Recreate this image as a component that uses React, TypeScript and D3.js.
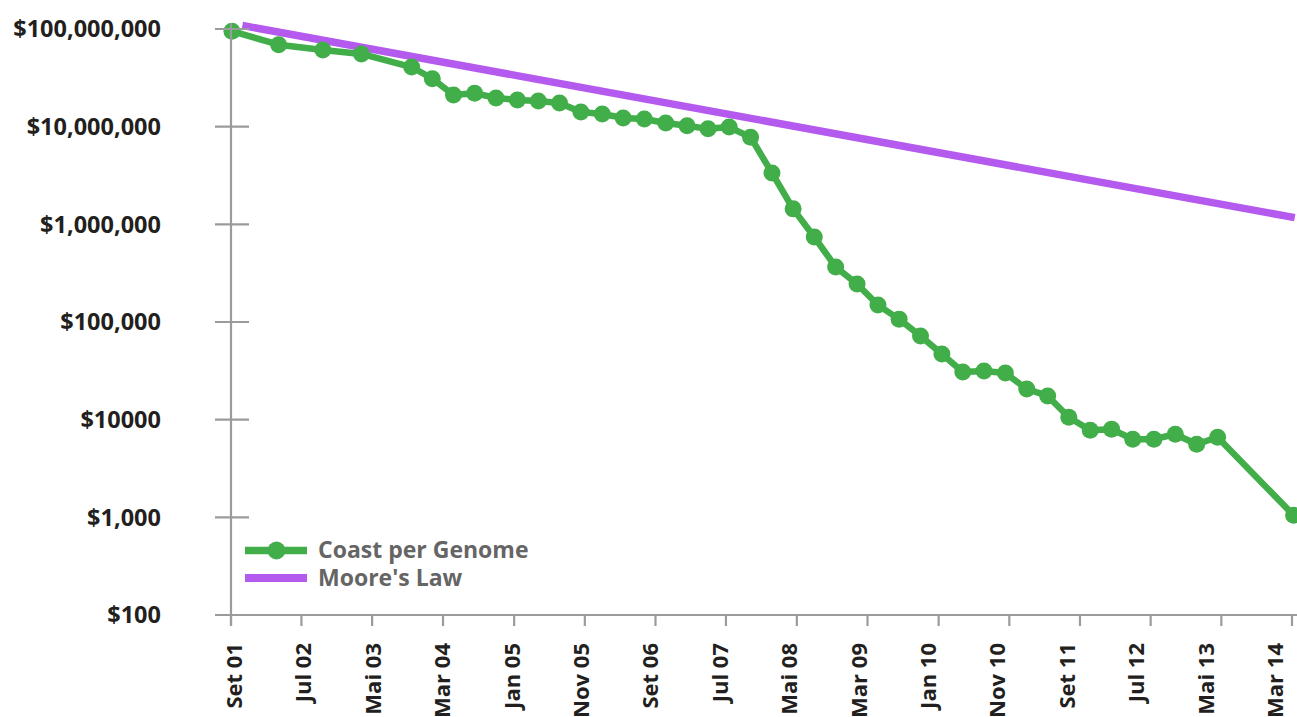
import React from "react";
import * as d3 from "d3";

// ---- Data ----
const costDates = [
  "2001-09-05", "2002-03-25", "2002-10-01", "2003-03-16", "2003-10-18",
  "2004-01-15", "2004-04-15", "2004-07-15", "2004-10-15",
  "2005-01-15", "2005-04-15", "2005-07-15", "2005-10-15",
  "2006-01-15", "2006-04-15", "2006-07-15", "2006-10-15",
  "2007-01-15", "2007-04-15", "2007-07-15", "2007-10-15",
  "2008-01-15", "2008-04-15", "2008-07-15", "2008-10-15",
  "2009-01-15", "2009-04-15", "2009-07-15", "2009-10-15",
  "2010-01-15", "2010-04-15", "2010-07-15", "2010-10-15",
  "2011-01-15", "2011-04-15", "2011-07-15", "2011-10-15",
  "2012-01-15", "2012-04-15", "2012-07-15", "2012-10-15",
  "2013-01-15", "2013-04-15",
  "2014-03-08",
];
const costValues = [
  95e6, 69e6, 61e6, 55.5e6, 40.8e6,
  31e6, 21.1e6, 22e6, 19.7e6,
  18.8e6, 18.3e6, 17.5e6, 14.1e6,
  13.5e6, 12.3e6, 12.0e6, 10.9e6,
  10.2e6, 9.5e6, 9.9e6, 7.8e6,
  3.36e6, 1.44e6, 742e3, 366e3,
  245e3, 149e3, 107e3, 72e3,
  47e3, 30.8e3, 31.5e3, 30e3,
  20.6e3, 17.5e3, 10.6e3, 7.8e3,
  8.0e3, 6.3e3, 6.3e3, 7.1e3,
  5.6e3, 6.6e3,
  1.05e3,
];
const mooreDates = ["2001-10-20", "2014-03-13"];
const mooreValues = [108.6e6, 1.17e6];

const xTickDates = [
  "2001-09-01", "2002-07-01", "2003-05-01", "2004-03-01", "2005-01-01", "2005-11-01",
  "2006-09-01", "2007-07-01", "2008-05-01", "2009-03-01", "2010-01-01", "2010-11-01",
  "2011-09-01", "2012-07-01", "2013-05-01", "2014-03-01",
];
const xTickLabels = [
  "Set 01", "Jul 02", "Mai 03", "Mar 04", "Jan 05", "Nov 05", "Set 06", "Jul 07",
  "Mai 08", "Mar 09", "Jan 10", "Nov 10", "Set 11", "Jul 12", "Mai 13", "Mar 14",
];
const yTickValues = [100, 1000, 10000, 100000, 1000000, 10000000, 100000000];
const yTickLabels = ["$100", "$1,000", "$10000", "$100,000", "$1,000,000", "$10,000,000", "$100,000,000"];

const seriesNames = ["Coast per Genome", "Moore's Law"];

const GREEN = "#41ae4a";
const PURPLE = "#b45aef";
const AXIS = "#9b9b9b";
const FONT = "'Open Sans', 'Noto Sans', sans-serif";

const parse = (s: string) => {
  const [y, m, d] = s.split("-").map(Number);
  return new Date(y, m - 1, d);
};

export default function App() {
  const W = 1297, H = 717;
  const x = d3.scaleTime().domain([parse("2001-09-01"), parse("2014-03-01")]).range([231, 1292]);
  const y = d3.scaleLog().domain([100, 1e8]).range([615, 29]);
  const labelPos = d3.scalePoint<string>().domain(xTickLabels).range([234, 1275]);

  const cost = costDates.map((d, i) => ({ date: parse(d), value: costValues[i] }));
  const moore = mooreDates.map((d, i) => ({ date: parse(d), value: mooreValues[i] }));

  const line = d3
    .line<{ date: Date; value: number }>()
    .x((d) => x(d.date))
    .y((d) => y(d.value));

  const axisX0 = x(parse("2001-09-01"));
  const yBottom = y(100);

  return (
    <svg width={W} height={H} style={{ position: "absolute", left: 0, top: 0, background: "#fff" }}>
      {/* Moore's law */}
      <path d={line(moore) || ""} fill="none" stroke={PURPLE} strokeWidth={7.5} />
      {/* Cost per genome */}
      <path d={line(cost) || ""} fill="none" stroke={GREEN} strokeWidth={6.5} strokeLinejoin="round" />
      {cost.map((d, i) => (
        <circle key={i} cx={x(d.date)} cy={y(d.value)} r={8.5} fill={GREEN} />
      ))}

      {/* Y axis */}
      <line x1={axisX0} x2={axisX0} y1={y(1e8) - 6} y2={yBottom + 10} stroke={AXIS} strokeWidth={2.2} />
      {yTickValues.map((v, i) => (
        <g key={v}>
          <line x1={axisX0 - 16} x2={axisX0 + 18} y1={y(v)} y2={y(v)} stroke={AXIS} strokeWidth={2.2} />
          <text
            x={161}
            y={y(v)}
            dy="0.36em"
            textAnchor="end"
            fontFamily={FONT}
            fontWeight={700}
            fontSize={23.5}
            fill="#231f20"
          >
            {yTickLabels[i]}
          </text>
        </g>
      ))}

      {/* X axis */}
      <line x1={217} x2={W} y1={yBottom} y2={yBottom} stroke={AXIS} strokeWidth={2.2} />
      {xTickDates.map((d, i) => {
        const tx = x(parse(d));
        const lx = labelPos(xTickLabels[i]) as number;
        return (
          <g key={d}>
            <line x1={tx} x2={tx} y1={yBottom} y2={yBottom + 11} stroke={AXIS} strokeWidth={2.2} />
            <text
              transform={`translate(${lx + 8},643) rotate(-90)`}
              textAnchor="end"
              fontFamily={FONT}
              fontWeight={700}
              fontSize={22}
              fill="#231f20"
            >
              {xTickLabels[i]}
            </text>
          </g>
        );
      })}

      {/* Legend */}
      <g>
        <line x1={245} x2={307} y1={550.5} y2={550.5} stroke={GREEN} strokeWidth={7.5} />
        <circle cx={276.5} cy={550.5} r={9} fill={GREEN} />
        <text x={318} y={558} fontFamily={FONT} fontWeight={700} fontSize={23} fill="#656565">
          {seriesNames[0]}
        </text>
        <line x1={245} x2={307} y1={578} y2={578} stroke={PURPLE} strokeWidth={8} />
        <text x={318} y={585.5} fontFamily={FONT} fontWeight={700} fontSize={23} fill="#656565">
          {seriesNames[1]}
        </text>
      </g>
    </svg>
  );
}
